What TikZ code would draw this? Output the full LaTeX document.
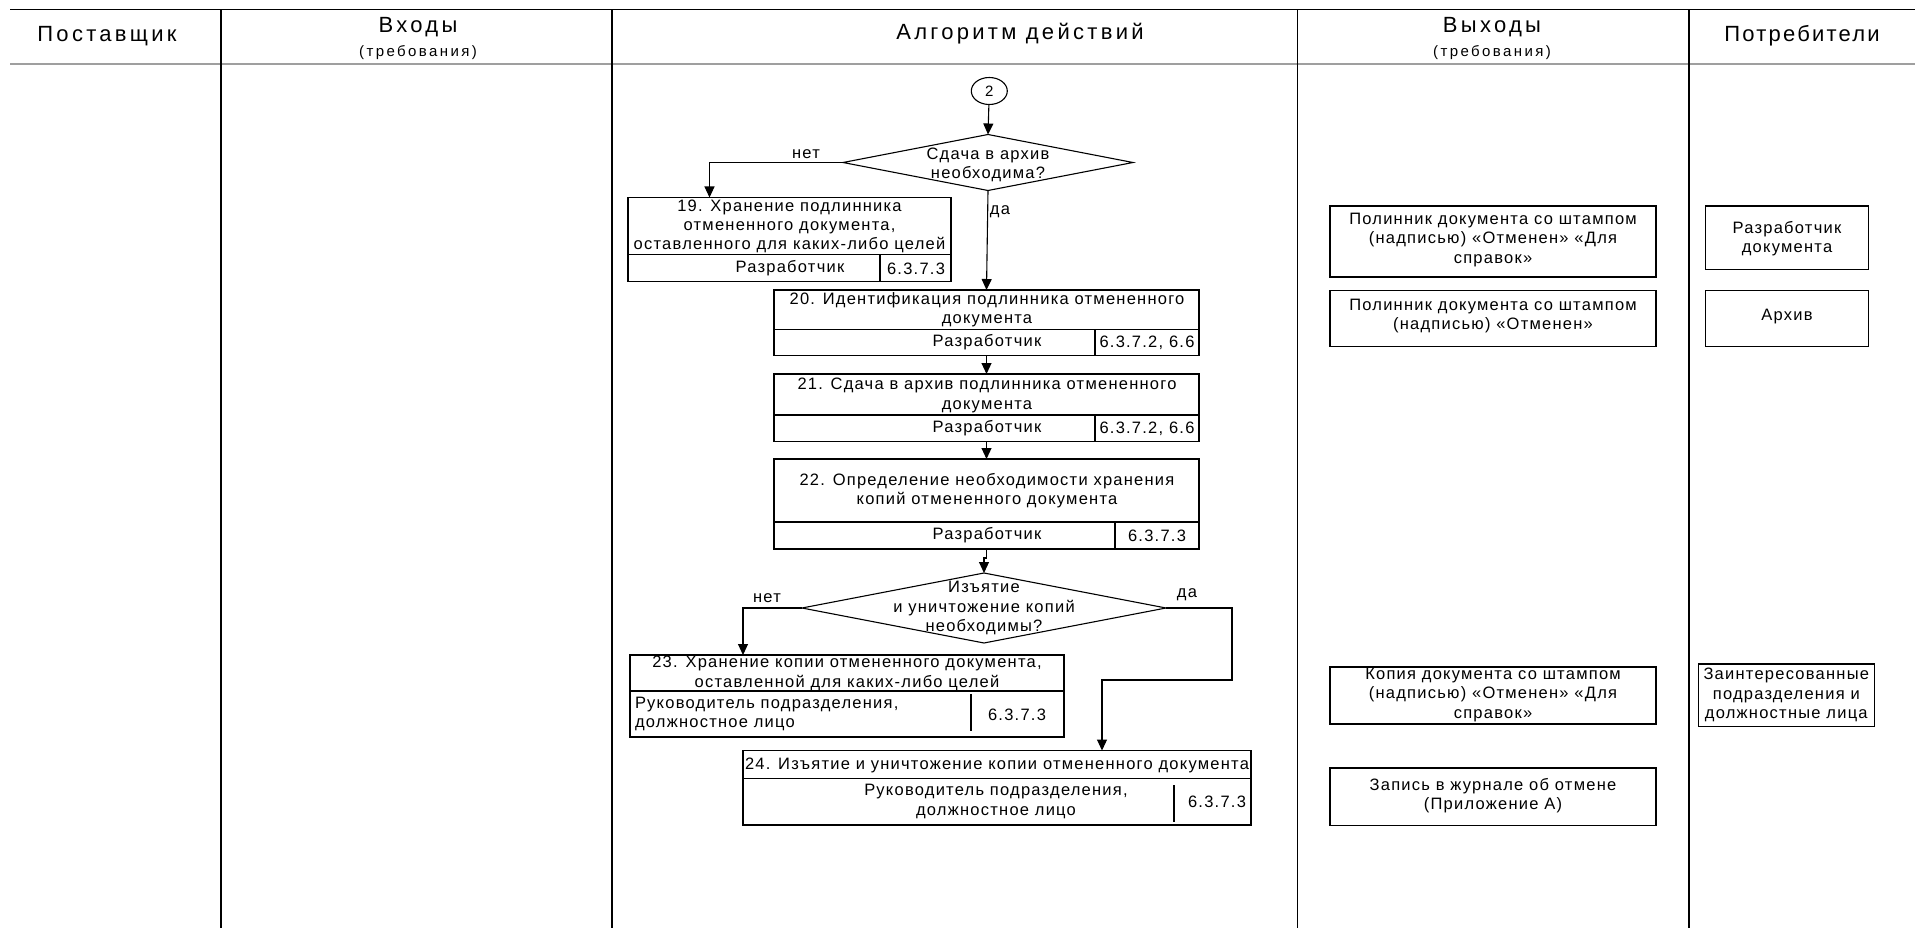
\documentclass[tikz,border=0pt]{standalone}
\usepackage{fontspec}
\setmainfont{Liberation Sans}[LetterSpace=7.5]
\newfontfamily\hdrfont{Liberation Sans}[LetterSpace=15]
\newfontfamily\hdrfontn{Liberation Sans}[LetterSpace=10]
\newfontfamily\subfont{Liberation Sans}[LetterSpace=16]
\usetikzlibrary{arrows.meta,shapes.geometric,calc}
\begin{document}
\begin{tikzpicture}[x=1pt,y=-1pt,
  every node/.style={inner sep=0pt, outer sep=0pt},
  lbl/.style={font=\fontsize{16.5}{19.3}\selectfont, align=center},
  lbll/.style={font=\fontsize{16.5}{19.3}\selectfont, align=left},
  boxr/.style={draw, line width=1.1pt, rectangle, inner sep=0pt},
  dia/.style={draw, line width=1.1pt, diamond, inner sep=0pt},
  conn/.style={draw, line width=1.1pt, ellipse, inner sep=0pt},
  arr/.style={-{Triangle[width=10pt,length=11pt]}, line width=1.1pt},
  sep/.style={line width=1.1pt},
  frame/.style={line width=1.3pt},
  hdr/.style={font=\hdrfont\fontsize{22}{26}\selectfont},
  hdrn/.style={font=\hdrfontn\fontsize{22}{26}\selectfont},
  hdrs/.style={font=\subfont\fontsize{15}{17}\selectfont},
]
\useasboundingbox (0,0) rectangle (1915,928);
\fill[white] (0,0) rectangle (1915,928);

% ---- frame ----
\draw[line width=1.5pt] (10,9.5) -- (1915,9.5);
\draw[line width=2pt, gray!75] (10,64.5) -- (1915,64.5);
\foreach \xx in {221,612,1297.5,1689}
  \draw[frame] (\xx,9.5) -- (\xx,928);

% ---- headers ----
\node[hdr] (hSup) at (107,36) {Поставщик};
\node[hdr] (hIn) at (418,27) {Входы};
\node[hdrs] (hInS) at (418,53) {(требования)};
\node[hdr] (hAlg) at (1020,34) {Алгоритм действий};
\node[hdr] (hOut) at (1492,27) {Выходы};
\node[hdrs] (hOutS) at (1492,53) {(требования)};
\node[hdrn] (hCons) at (1802,36) {Потребители};

% ---- connector circle ----
\node[conn, minimum width=36pt, minimum height=27pt] (c2) at (989.3,91) {};
\node[font=\fontsize{15}{18}\selectfont] (c2t) at (c2) {2};

% ---- decision 1 ----
\node[dia, minimum width=290pt, minimum height=56pt] (d1) at (988,162.5) {};
\node[lbl] (d1t) at (988,165) {Сдача в архив\\необходима?};

% ---- box 19 ----
\node[boxr, minimum width=323pt, minimum height=84pt] (b19) at (789.5,239.5) {};
\draw[sep] ($(b19.north west)+(0,57)$) -- ($(b19.north east)+(0,57)$);
\draw[sep] ($(b19.north west)+(252,57)$) -- ($(b19.south west)+(252,0)$);
\node[lbl] (b19t) at (789.5,226.3) {19. Хранение подлинника\\отмененного документа,\\оставленного для каких-либо целей};
\node[lbl] (b19a) at (790,268.5) {Разработчик};
\node[lbl] (b19b) at (916,268.5) {6.3.7.3};

% ---- box 20 ----
\node[boxr, minimum width=425pt, minimum height=65.5pt] (b20) at (986.5,322.75) {};
\draw[sep] ($(b20.north west)+(0,39.5)$) -- ($(b20.north east)+(0,39.5)$);
\draw[sep] ($(b20.north west)+(321,39.5)$) -- ($(b20.south west)+(321,0)$);
\node[lbl] (b20t) at (987,309.5) {20. Идентификация подлинника отмененного\\документа};
\node[lbl] (b20a) at (987,342.5) {Разработчик};
\node[lbl] (b20b) at (1147,342.5) {6.3.7.2, 6.6};

% ---- box 21 ----
\node[boxr, minimum width=425pt, minimum height=67.5pt] (b21) at (986.5,407.75) {};
\draw[sep] ($(b21.north west)+(0,41)$) -- ($(b21.north east)+(0,41)$);
\draw[sep] ($(b21.north west)+(321,41)$) -- ($(b21.south west)+(321,0)$);
\node[lbl] (b21t) at (987,395.3) {21. Сдача в архив подлинника отмененного\\документа};
\node[lbl] (b21a) at (987,428.5) {Разработчик};
\node[lbl] (b21b) at (1147,428.5) {6.3.7.2, 6.6};

% ---- box 22 ----
\node[boxr, minimum width=425pt, minimum height=90pt] (b22) at (986.5,504) {};
\draw[sep] ($(b22.north west)+(0,63)$) -- ($(b22.north east)+(0,63)$);
\draw[sep] ($(b22.north west)+(341,63)$) -- ($(b22.south west)+(341,0)$);
\node[lbl] (b22t) at (987,490.5) {22. Определение необходимости хранения\\копий отмененного документа};
\node[lbl] (b22a) at (987,535.5) {Разработчик};
\node[lbl] (b22b) at (1157,535.5) {6.3.7.3};

% ---- decision 2 ----
\node[dia, minimum width=364pt, minimum height=70pt] (d2) at (984,608) {};
\node[lbl] (d2t) at (984,608) {Изъятие\\и уничтожение копий\\необходимы?};

% ---- box 23 ----
\node[boxr, minimum width=434pt, minimum height=82pt] (b23) at (847,696) {};
\draw[sep] ($(b23.north west)+(0,36)$) -- ($(b23.north east)+(0,36)$);
\draw[sep] ($(b23.north west)+(341,39)$) -- ($(b23.south west)+(341,-6)$);
\node[lbl] (b23t) at (847,673.5) {23. Хранение копии отмененного документа,\\оставленной для каких-либо целей};
\node[lbll, anchor=west] (b23a) at (635,714) {Руководитель подразделения,\\должностное лицо};
\node[lbl] (b23b) at (1017,715) {6.3.7.3};

% ---- box 24 ----
\node[boxr, minimum width=508pt, minimum height=74.5pt] (b24) at (997,787.75) {};
\draw[sep] ($(b24.north west)+(0,28)$) -- ($(b24.north east)+(0,28)$);
\draw[sep] ($(b24.north west)+(431,34.5)$) -- ($(b24.south west)+(431,-3)$);
\node[lbl] (b24t) at (997,765) {24. Изъятие и уничтожение копии отмененного документа};
\node[lbl] (b24a) at (996,801.5) {Руководитель подразделения,\\должностное лицо};
\node[lbl] (b24b) at (1217,801.5) {6.3.7.3};

% ---- outputs ----
\node[boxr, minimum width=326pt, minimum height=71pt] (o1) at (1493,241.5) {};
\node[lbl] (o1t) at (1493,240) {Полинник документа со штампом\\(надписью) «Отменен» «Для\\справок»};
\node[boxr, minimum width=326pt, minimum height=56pt] (o2) at (1493,318.6) {};
\node[lbl] (o2t) at (1493,316) {Полинник документа со штампом\\(надписью) «Отменен»};
\node[boxr, minimum width=326pt, minimum height=57pt] (o3) at (1493,695.5) {};
\node[lbl] (o3t) at (1493,695) {Копия документа со штампом\\(надписью) «Отменен» «Для\\справок»};
\node[boxr, minimum width=326pt, minimum height=57.6pt] (o4) at (1493,796.8) {};
\node[lbl] (o4t) at (1493,796) {Запись в журнале об отмене\\(Приложение А)};

% ---- consumers ----
\node[boxr, minimum width=163pt, minimum height=63.5pt] (k1) at (1787,237.75) {};
\node[lbl] (k1t) at (1787,238.7) {Разработчик\\документа};
\node[boxr, minimum width=163pt, minimum height=56pt] (k2) at (1787,318.6) {};
\node[lbl] (k2t) at (1787,317) {Архив};
\node[boxr, minimum width=176pt, minimum height=62.5pt] (k3) at (1786.3,695.25) {};
\node[lbl] (k3t) at (1786.3,695) {Заинтересованные\\подразделения и\\должностные лица};

% ---- connectors ----
\draw[arr] (c2) -- (d1.north);
\draw[arr] (d1.west) -| ([xshift=-80pt]b19.north);
\node[lbl] (no1) at (806,154) {нет};
\draw[arr] (d1.south) -- (b20.north);
\node[lbl] (yes1) at (1000,212) {да};
\draw[arr] (b20) -- (b21);
\draw[arr] (b21) -- (b22);
\draw[arr] (b22.south) -- ++(0,9) -| (d2.north);
\draw[arr] (d2.west) -| ([xshift=-104pt]b23.north);
\node[lbl] (no2) at (767,598) {нет};
\draw[arr] (d2.east) -- ++(66,0) -- ++(0,72) -| ([xshift=105pt]b24.north);
\node[lbl] (yes2) at (1187,595) {да};
\end{tikzpicture}
\end{document}
